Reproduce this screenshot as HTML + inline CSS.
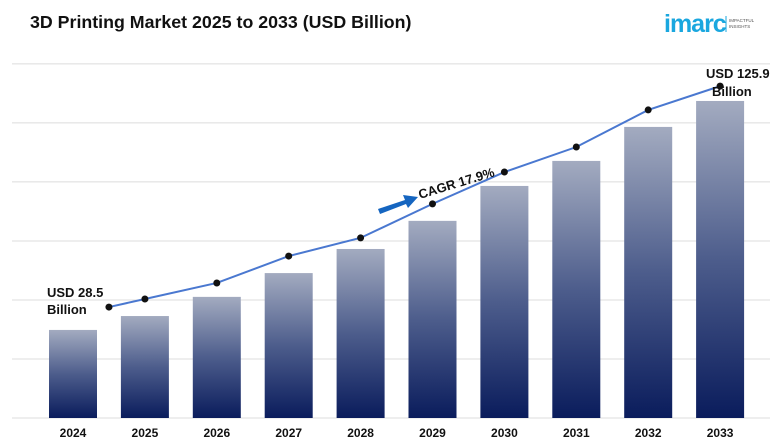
<!DOCTYPE html>
<html><head><meta charset="utf-8"><style>
body{margin:0;background:#fff;width:780px;height:440px;overflow:hidden;font-family:"Liberation Sans",sans-serif}
</style></head><body>
<svg width="780" height="440">
<defs><linearGradient id="g" x1="0" y1="0" x2="0" y2="1"><stop offset="0" stop-color="#a3abc0"/><stop offset="0.5" stop-color="#4d5d8c"/><stop offset="1" stop-color="#0a1c5c"/></linearGradient></defs>
<text x="30" y="28" font-size="17.8" font-weight="bold" fill="#111">3D Printing Market 2025 to 2033 (USD Billion)</text>
<g>
<text x="664" y="32" font-size="25" font-weight="bold" fill="#1aa7df" letter-spacing="-1">imarc</text>
<line x1="726" y1="16" x2="726" y2="32" stroke="#1aa7df" stroke-width="1"/>
<text x="729" y="22" font-size="4.5" fill="#555">IMPACTFUL</text>
<text x="729" y="28" font-size="4.5" fill="#555">INSIGHTS</text>
</g>
<g id="grid"></g><g id="bars"></g><g id="line"></g><g id="labels"></g>
<text x="47" y="297" font-size="13" font-weight="bold" fill="#111">USD 28.5</text>
<text x="47" y="314" font-size="13" font-weight="bold" fill="#111">Billion</text>
<text x="706" y="78" font-size="13" font-weight="bold" fill="#111">USD 125.9</text>
<text x="712" y="96" font-size="13" font-weight="bold" fill="#111">Billion</text>
<g>
<polygon points="378,209 405,200 403,195 418,197 408,208 406,204 380,214" fill="#1565c0"/>
<text x="420" y="199" font-size="13" font-weight="bold" fill="#111" transform="rotate(-17 420 199)">CAGR 17.9%</text>
</g>
</svg>
<script>
const years=["2024","2025","2026","2027","2028","2029","2030","2031","2032","2033"];
const barValues=[28.5,33.0,39.2,46.9,54.7,63.8,75.1,83.2,94.2,102.6];
const lineValues=[35.9,38.5,43.7,52.4,58.3,69.3,79.6,87.7,99.7,107.4];
const lineCats=[0.5,1,2,3,4,5,6,7,8,9];
const gridTicks=[0,19.1,38.2,57.3,76.4,95.5,114.6];
const NS="http://www.w3.org/2000/svg";
const y=v=>418-v*3.09, x=i=>73+i*71.9;
function mk(t,a,p){const e=document.createElementNS(NS,t);for(const k in a)e.setAttribute(k,a[k]);p.appendChild(e);return e;}
const G=document.getElementById('grid'),B=document.getElementById('bars'),L=document.getElementById('line'),T=document.getElementById('labels');
gridTicks.forEach(v=>{const l=mk('line',{x1:12,x2:770,y1:y(v),y2:y(v),stroke:'#dcdcdc','stroke-width':1},G);

});
years.forEach((yr,i)=>{const r=mk('rect',{x:x(i)-24,y:y(barValues[i]),width:48,height:418-y(barValues[i]),fill:'url(#g)'},B);


const t=mk('text',{x:x(i),y:437,'text-anchor':'middle','font-size':12,'font-weight':'bold',fill:'#111'},T);t.textContent=yr;

});
const pts=lineValues.map((v,i)=>[x(lineCats[i]),y(v)]);
const pl=mk('polyline',{points:pts.map(p=>p.join(',')).join(' '),fill:'none',stroke:'#4a78d0','stroke-width':2},L);


pts.forEach((p,i)=>{const c=mk('circle',{cx:p[0],cy:p[1],r:3.5,fill:'#111'},L);

});
</script>
</body></html>
